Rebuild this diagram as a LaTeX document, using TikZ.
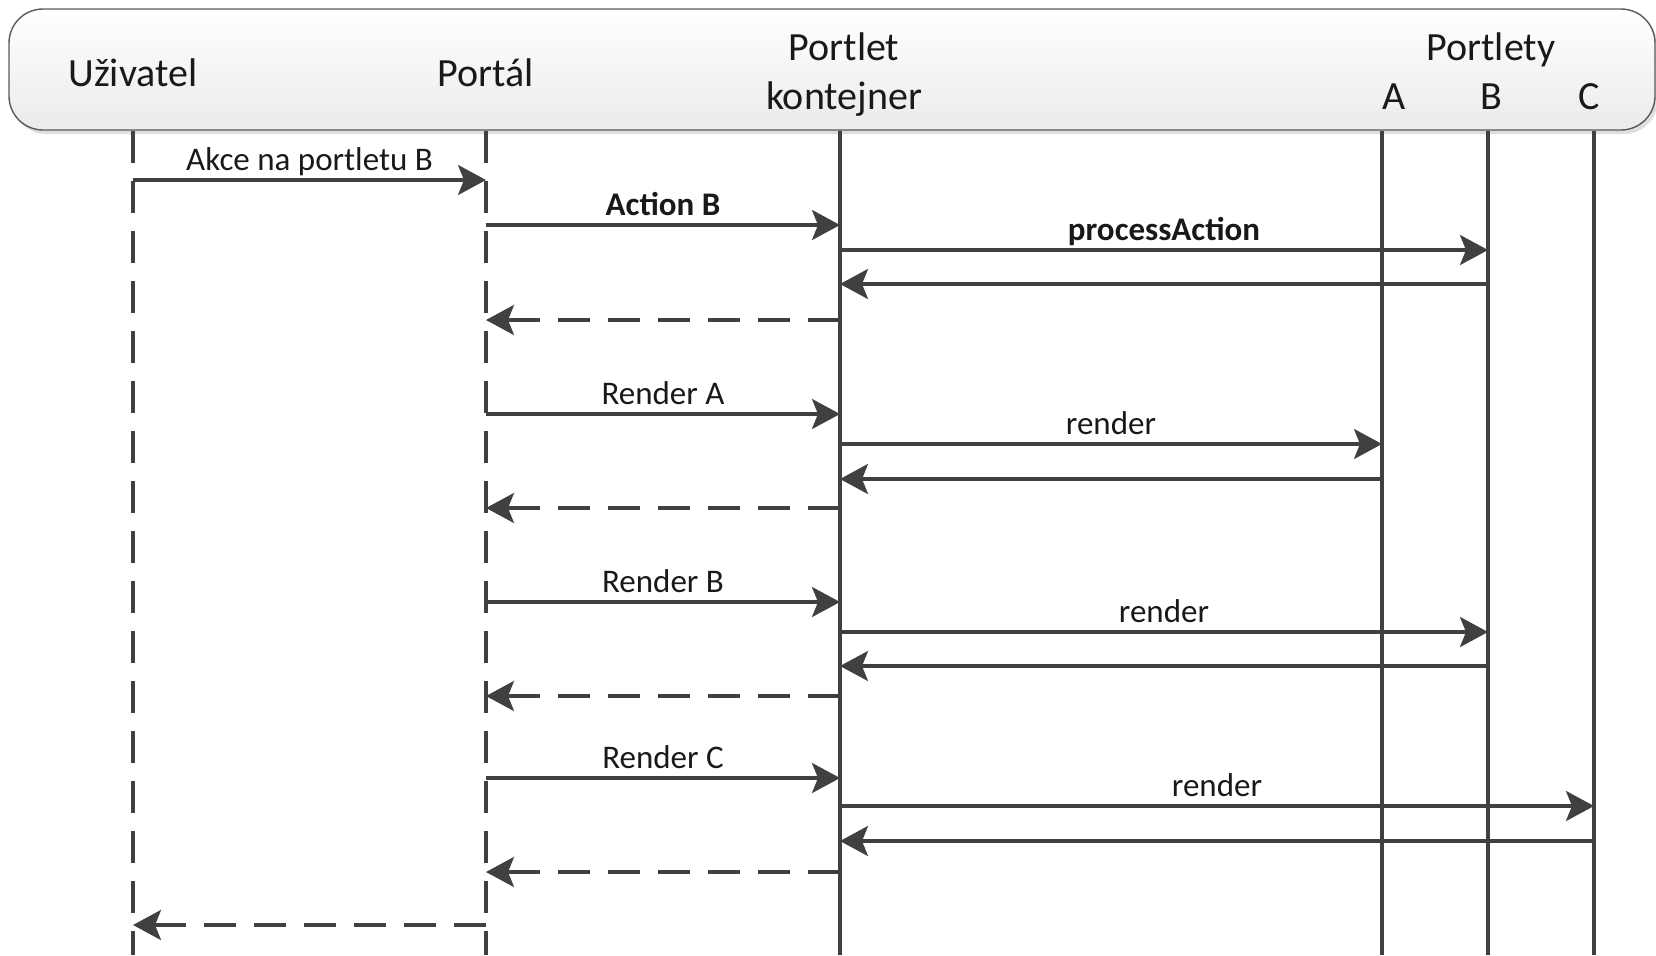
\documentclass[tikz,border=0pt]{standalone}
\usepackage{fontspec}
\setmainfont{Carlito}
\usetikzlibrary{arrows.meta,shadows}
\definecolor{ink}{HTML}{404040}
\definecolor{frame}{HTML}{5A5A5A}
\begin{document}
\begin{tikzpicture}[x=0.5pt,y=-0.5pt,
  hdr/.style={font=\fontsize{20}{24}\selectfont, inner sep=0pt, anchor=base, text=black!90},
  lbl/.style={font=\fontsize{16.5}{20}\selectfont, inner sep=0pt, anchor=base, yshift=5pt, text=black!90},
  life/.style={draw=ink, line width=1.9pt},
  dline/.style={life, dash pattern=on 16pt off 9pt},
  msg/.style={draw=ink, line width=1.65pt, -{Stealth[length=14pt,width=15pt,inset=3pt]}},
  ret/.style={msg, dash pattern=on 16pt off 9pt},
  headbox/.style={draw=frame, line width=0.7pt, rounded corners=17pt,
    top color=white, bottom color=black!8,
    drop shadow={shadow xshift=1.5pt, shadow yshift=-2pt, opacity=0.25}},
]
\useasboundingbox (0,0) rectangle (1656,955);

% header band
\node[headbox, minimum width=823pt, minimum height=60.5pt, inner sep=0pt] (band) at (832,69.5) {};

% participant titles
\node[hdr] (tu) at (133,86) {Uživatel};
\node[hdr] (tp) at (486,86) {Portál};
\node[hdr] (tc1) at (844,60) {Portlet};
\node[hdr] (tc2) at (844,109) {kontejner};
\node[hdr] (tl) at (1491,60) {Portlety};
\node[hdr] (ta) at (1394,109) {A};
\node[hdr] (tb) at (1491,109) {B};
\node[hdr] (tcc) at (1589,109) {C};

% lifelines
\coordinate (u) at (133,131);  \coordinate (ub) at (133,955);
\coordinate (p) at (486,131);  \coordinate (pb) at (486,955);
\coordinate (k) at (840,131);  \coordinate (kb) at (840,955);
\coordinate (a) at (1382,131); \coordinate (ab) at (1382,955);
\coordinate (b) at (1488,131); \coordinate (bb) at (1488,955);
\coordinate (c) at (1594,131); \coordinate (cb) at (1594,955);
\draw[dline] (u) -- (ub);
\draw[dline] (p) -- (pb);
\draw[life] (k) -- (kb);
\draw[life] (a) -- (ab);
\draw[life] (b) -- (bb);
\draw[life] (c) -- (cb);

% action phase
\draw[msg] (u |- 0,180) -- node[lbl]{Akce na portletu B} (p |- 0,180);
\draw[msg] (p |- 0,225) -- node[lbl]{\textbf{Action B}} (k |- 0,225);
\draw[msg] (k |- 0,250) -- node[lbl]{\textbf{processAction}} (b |- 0,250);
\draw[msg] (b |- 0,284) -- (k |- 0,284);
\draw[ret] (k |- 0,320) -- (p |- 0,320);

% render A
\draw[msg] (p |- 0,414) -- node[lbl]{Render A} (k |- 0,414);
\draw[msg] (k |- 0,444) -- node[lbl]{render} (a |- 0,444);
\draw[msg] (a |- 0,479) -- (k |- 0,479);
\draw[ret] (k |- 0,508) -- (p |- 0,508);

% render B
\draw[msg] (p |- 0,602) -- node[lbl]{Render B} (k |- 0,602);
\draw[msg] (k |- 0,632) -- node[lbl]{render} (b |- 0,632);
\draw[msg] (b |- 0,666) -- (k |- 0,666);
\draw[ret] (k |- 0,696) -- (p |- 0,696);

% render C
\draw[msg] (p |- 0,778) -- node[lbl]{Render C} (k |- 0,778);
\draw[msg] (k |- 0,806) -- node[lbl]{render} (c |- 0,806);
\draw[msg] (c |- 0,841) -- (k |- 0,841);
\draw[ret] (k |- 0,872) -- (p |- 0,872);

% page back to the user
\draw[ret] (p |- 0,925) -- (u |- 0,925);
\end{tikzpicture}
\end{document}
